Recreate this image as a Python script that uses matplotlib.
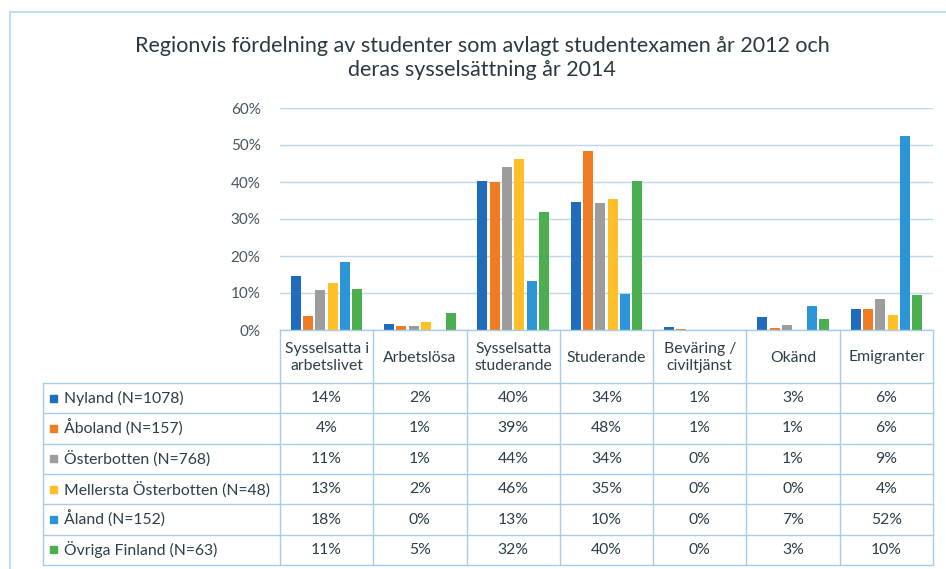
import matplotlib
matplotlib.use("Agg")
import matplotlib.pyplot as plt
import numpy as np

categories = ["Sysselsatta i\narbetslivet", "Arbetslösa", "Sysselsatta\nstuderande",
              "Studerande", "Beväring /\nciviltjänst", "Okänd", "Emigranter"]
regions = ["Nyland (N=1078)", "Åboland (N=157)", "Österbotten (N=768)",
           "Mellersta Österbotten (N=48)", "Åland (N=152)", "Övriga Finland (N=63)"]

# bar heights (fractions)
nyland      = [0.145, 0.015, 0.402, 0.345, 0.007, 0.034, 0.056]
aboland     = [0.039, 0.012, 0.399, 0.484, 0.004, 0.006, 0.058]
osterbotten = [0.109, 0.012, 0.441, 0.343, 0.000, 0.014, 0.085]
mellersta   = [0.126, 0.022, 0.462, 0.354, 0.000, 0.000, 0.041]
aland       = [0.185, 0.000, 0.132, 0.098, 0.000, 0.065, 0.525]
ovriga      = [0.112, 0.045, 0.320, 0.402, 0.000, 0.031, 0.095]

# table labels as printed
tab_nyland      = ["14%", "2%", "40%", "34%", "1%", "3%", "6%"]
tab_aboland     = ["4%", "1%", "39%", "48%", "1%", "1%", "6%"]
tab_osterbotten = ["11%", "1%", "44%", "34%", "0%", "1%", "9%"]
tab_mellersta   = ["13%", "2%", "46%", "35%", "0%", "0%", "4%"]
tab_aland       = ["18%", "0%", "13%", "10%", "0%", "7%", "52%"]
tab_ovriga      = ["11%", "5%", "32%", "40%", "0%", "3%", "10%"]

yticks = [0, 0.1, 0.2, 0.3, 0.4, 0.5, 0.6]
ytick_labels = ["0%", "10%", "20%", "30%", "40%", "50%", "60%"]

title = "Regionvis fördelning av studenter som avlagt studentexamen år 2012 och\nderas sysselsättning år 2014"

series = [nyland, aboland, osterbotten, mellersta, aland, ovriga]
table_rows = [tab_nyland, tab_aboland, tab_osterbotten, tab_mellersta, tab_aland, tab_ovriga]
colors = ["#1F6CBD", "#F07C24", "#9C9C9C", "#FEC02A", "#2B95D8", "#4BAE4F"]

plt.rcParams["font.family"] = ["Lato", "DejaVu Sans"]
W, H = 946, 569
fig = plt.figure(figsize=(W / 100, H / 100), dpi=100)
fig.patch.set_facecolor("white")

txt_color = "#2C3E48"
grid_color = "#BCD6EC"
border_color = "#A9CCE6"
fs = 11.3

# outer chart border (left and top edges)
fig.add_artist(plt.Line2D([10 / W, 10 / W], [1 - 12 / H, 0], color="#BFDDF0", lw=1.5))
fig.add_artist(plt.Line2D([10 / W, 1], [1 - 12 / H, 1 - 12 / H], color="#BFDDF0", lw=1.5))

x0, x1 = 280, 933
ytop, ybot = 108, 330
ax = fig.add_axes([x0 / W, 1 - ybot / H, (x1 - x0) / W, (ybot - ytop) / H])
n_cat = len(categories)
x = np.arange(n_cat)
step = 0.132
bw = 0.107
for i, (vals, c) in enumerate(zip(series, colors)):
    ax.bar(x + (i - 2.5) * step, vals, width=bw, color=c, zorder=3)
ax.set_xlim(-0.5, n_cat - 0.5)
ax.set_ylim(0, 0.6)
ax.set_yticks(yticks)
ax.set_yticklabels(ytick_labels, color="#45555F", fontsize=11)
ax.set_xticks([])
ax.tick_params(axis="y", length=0, pad=14)
ax.grid(axis="y", color=grid_color, lw=1, zorder=0)
for s in ax.spines.values():
    s.set_visible(False)
ax.set_facecolor("none")

fig.text(482 / W, 1 - 58 / H, title, ha="center", va="center", fontsize=15.5,
         color="#2A3840", linespacing=1.3)

# data table
ty0, ty1 = 330, 565
tax = fig.add_axes([x0 / W, 1 - ty1 / H, (x1 - x0) / W, (ty1 - ty0) / H])
tax.set_xlim(-0.5, n_cat - 0.5)
tax.set_ylim(ty1, ty0)
tax.axis("off")
cat_w = (x1 - x0) / n_cat
xl = -0.5 - (x0 - 43) / cat_w
header_bottom = 383
row_h = (ty1 - header_bottom) / len(regions)
lw = 1.0
# horizontal lines
tax.plot([-0.5, n_cat - 0.5], [ty0, ty0], color=border_color, lw=lw, clip_on=False)
for r in range(len(regions) + 1):
    yy = header_bottom + r * row_h
    tax.plot([xl, n_cat - 0.5], [yy, yy], color=border_color, lw=lw, clip_on=False)
# vertical lines
for k in range(n_cat + 1):
    tax.plot([k - 0.5, k - 0.5], [ty0, ty1], color=border_color, lw=lw, clip_on=False)
tax.plot([xl, xl], [header_bottom, ty1], color=border_color, lw=lw, clip_on=False)

for k, cat in enumerate(categories):
    tax.text(k, (ty0 + header_bottom) / 2 + 1, cat, ha="center", va="center",
             fontsize=fs, color=txt_color, linespacing=1.3)

sq = 7 / cat_w
for r, (name, vals, c) in enumerate(zip(regions, table_rows, colors)):
    yc = header_bottom + (r + 0.5) * row_h
    tax.add_patch(plt.Rectangle((xl + 7 / cat_w, yc - 3.5), sq, 7, color=c, clip_on=False))
    tax.text(xl + 21 / cat_w, yc, name, ha="left", va="center", fontsize=fs,
             color=txt_color, clip_on=False)
    for k, v in enumerate(vals):
        tax.text(k, yc, v, ha="center", va="center", fontsize=fs, color=txt_color)

fig.savefig("out.png", dpi=100, facecolor="white")
